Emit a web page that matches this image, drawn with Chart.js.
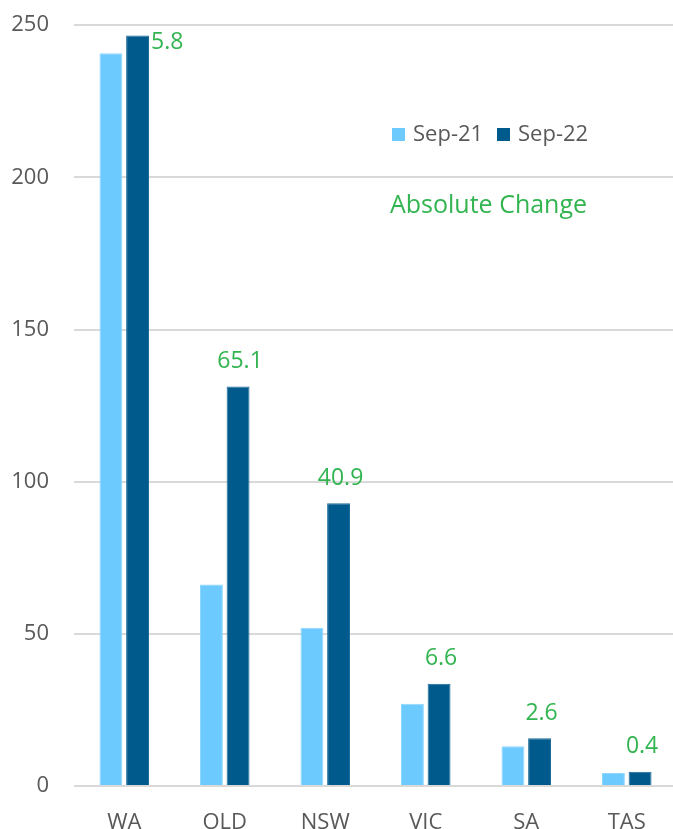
<!DOCTYPE html>
<html>
<head>
<meta charset="utf-8">
<script src="https://cdn.jsdelivr.net/npm/chart.js@4.4.0/dist/chart.umd.min.js"></script>
<style>
  html, body { margin: 0; padding: 0; background: #fff; overflow: hidden; }
  #wrap { position: relative; width: 673px; height: 829px; overflow: hidden; }
  #c { position: absolute; left: 0; top: -13px; }
</style>
</head>
<body>
<div id="wrap"><canvas id="c" width="680" height="842"></canvas></div>
<script>
const categories = ['WA', 'OLD', 'NSW', 'VIC', 'SA', 'TAS'];
const sep21 = [240.8, 66.2, 52.0, 27.0, 13.1, 4.3];
const sep22 = [246.6, 131.3, 92.9, 33.6, 15.7, 4.7];
const absChange = ['5.8', '65.1', '40.9', '6.6', '2.6', '0.4'];
const yTicks = [0, 50, 100, 150, 200, 250];
const seriesNames = ['Sep-21', 'Sep-22'];
const annotationTitle = 'Absolute Change';

const FONT = '"Open Sans", "Noto Sans", sans-serif';
const GREY = '#595959';
const GREEN = '#32B450';
const LIGHT = '#6DCAFF';
const DARK = '#005A8C';
const SHIFT = 13; // canvas is offset upward by this many pixels

const overlay = {
  id: 'overlay',
  afterDatasetsDraw(chart) {
    const ctx = chart.ctx;
    const meta = chart.getDatasetMeta(1);
    ctx.save();
    ctx.font = '23px ' + FONT;
    ctx.fillStyle = GREEN;
    ctx.textBaseline = 'middle';
    meta.data.forEach((bar, i) => {
      if (i === 0) {
        ctx.textAlign = 'left';
        ctx.fillText(absChange[i], bar.x + bar.width / 2 + 2, bar.y + 7);
      } else {
        ctx.textAlign = 'center';
        ctx.fillText(absChange[i], bar.x + 2, bar.y - 25);
      }
    });
    // "Absolute Change" caption
    ctx.textAlign = 'left';
    ctx.font = '25px ' + FONT;
    ctx.fillText(annotationTitle, 390, 206 + SHIFT);
    // legend
    const colors = [LIGHT, DARK];
    const xs = [392, 497];
    ctx.font = '22px ' + FONT;
    seriesNames.forEach((n, i) => {
      ctx.fillStyle = colors[i];
      ctx.fillRect(xs[i], 128 + SHIFT, 13, 13);
      ctx.fillStyle = GREY;
      ctx.fillText(n, xs[i] + 21, 135 + SHIFT);
    });
    ctx.restore();
  }
};

new Chart(document.getElementById('c'), {
  type: 'bar',
  data: {
    labels: categories,
    datasets: [
      { label: seriesNames[0], data: sep21, backgroundColor: LIGHT, borderColor: '#8ED7FF', borderWidth: 1,
        barPercentage: 0.86, categoryPercentage: 0.53 },
      { label: seriesNames[1], data: sep22, backgroundColor: DARK, borderColor: '#1E6C99', borderWidth: 1,
        barPercentage: 0.86, categoryPercentage: 0.53 }
    ]
  },
  options: {
    responsive: false,
    animation: false,
    devicePixelRatio: 1,
    layout: { padding: { top: 11, right: 3, left: 0, bottom: 0 } },
    plugins: { legend: { display: false }, tooltip: { enabled: false } },
    scales: {
      x: {
        grid: { display: false, drawTicks: false },
        border: { display: false },
        ticks: { color: GREY, font: { family: FONT, size: 22 }, padding: 24 },
        afterFit(s) { s.height = 43; }
      },
      y: {
        min: 0, max: 250,
        afterBuildTicks(s) { s.ticks = yTicks.map(v => ({ value: v })); },
        grid: { color: '#D9D9D9', lineWidth: 2, drawTicks: false },
        border: { display: false },
        ticks: { color: GREY, font: { family: FONT, size: 22 }, padding: 25 },
        afterFit(s) { s.width = 74; }
      }
    }
  },
  plugins: [overlay]
});
</script>
</body>
</html>
